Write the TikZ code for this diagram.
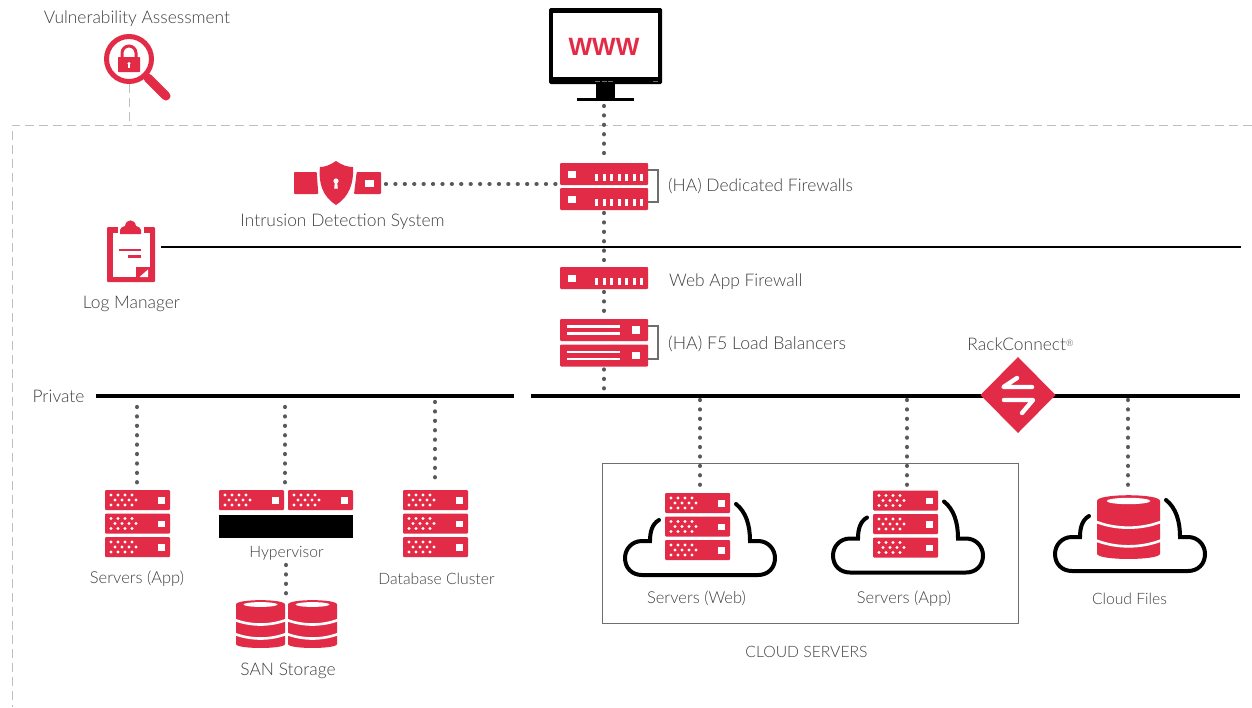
\documentclass[tikz,border=0pt]{standalone}
\usepackage{fontspec}
\usetikzlibrary{shapes.geometric}
\setmainfont{Lato Light}
\newfontfamily\wwwfont{Liberation Sans}
\definecolor{rk}{HTML}{E22B46}
\definecolor{tx}{HTML}{3E4042}
\definecolor{dk}{HTML}{58595B}
\definecolor{dsh}{HTML}{BDBFC1}
\definecolor{brk}{HTML}{6D6E70}
\tikzset{
 dotline/.style={draw=dk,line width=4.3pt,line cap=round,dash pattern=on 0.01pt off 9.4pt,shorten <=3pt,shorten >=2pt},
 framedash/.style={draw=dsh,line width=1pt,dash pattern=on 9pt off 5pt},
 bar/.style={draw=black,line width=4pt},
 rbox/.style={fill=rk,draw=none,rounded corners=1pt,inner sep=0pt,outer sep=0pt,anchor=north west},
 wsq/.style={fill=white,draw=none},
 tick/.style={draw=white,line width=3pt},
 wline/.style={draw=white,line width=2.4pt},
 cloudline/.style={draw=black,line width=4pt,line cap=round},
 bracket/.style={draw=brk,line width=1.2pt},
 lbl/.style={text=tx,inner sep=0pt,font=\fontsize{17.4}{20}\selectfont},
 sm/.style={text=tx,inner sep=0pt,font=\fontsize{15.7}{18}\selectfont},
 srvlbl/.style={text=tx,inner sep=0pt,font=\fontsize{16.5}{18}\selectfont},
}
\newcommand{\dotsrv}[3]{%
 \node[rbox,minimum width=65pt,minimum height=20pt] (#1) at (#2,#3) {};
 \foreach \dy/\dx in {5/6,5/13,5/20,5/27,10/10,10/17,10/24,10/31,15/6,15/13,15/20,15/27}
  \fill[white] ({#2+\dx},{#3+\dy}) circle (1.6pt);
 \fill[wsq] ({#2+53},{#3+7}) rectangle ({#2+59.5},{#3+13.5});
}
\newcommand{\fwsrv}[3]{%
 \node[rbox,minimum width=88pt,minimum height=22pt] (#1) at (#2,#3) {};
 \fill[wsq] ({#2+8},{#3+8}) rectangle ({#2+16},{#3+15});
 \foreach \k in {0,...,6}
  \draw[tick] ({#2+36.5+7.5*\k},{#3+11}) -- ({#2+36.5+7.5*\k},{#3+18});
}
\newcommand{\lbsrv}[3]{%
 \node[rbox,minimum width=88pt,minimum height=22pt] (#1) at (#2,#3) {};
 \draw[wline] ({#2+7},{#3+7.5}) -- ({#2+60},{#3+7.5});
 \draw[wline] ({#2+7},{#3+14.5}) -- ({#2+60},{#3+14.5});
 \fill[wsq] ({#2+72},{#3+7}) rectangle ({#2+80},{#3+14.5});
}
\newcommand{\cyl}[5]{%
 \node[inner sep=0pt,outer sep=0pt,minimum width=#4pt,minimum height=#5pt,anchor=north west] (#1) at (#2,#3) {};
 \begin{scope}[shift={(#2,#3)},xscale=#4/49,yscale=#5/48]
  \fill[rk] (0,4.5) .. controls (0,-1.3) and (49,-1.3) .. (49,4.5) -- (49,44) .. controls (49,49.3) and (0,49.3) .. (0,44) -- cycle;
  \fill[white] (24.5,4.5) ellipse (17 and 2.4);
  \draw[white,line width=2.6pt] (-1,20) .. controls (15,26) and (34,26) .. (50,20);
  \draw[white,line width=2.6pt] (-1,34) .. controls (15,40) and (34,40) .. (50,34);
 \end{scope}
}
\newcommand{\cloud}[2]{%
 \begin{scope}[shift={(#1,#2)}]
 \draw[cloudline] (659,520) .. controls (652,524) and (650,532) .. (650,541) -- (642,541) .. controls (632,541) and (625,549) .. (625,558) .. controls (625,568) and (632,575) .. (642,575) -- (758,575) .. controls (768,575) and (775,568) .. (775,558) .. controls (775,549) and (768,541) .. (758,541) -- (750,541) .. controls (750,525) and (746,512) .. (736,504);
 \end{scope}
}
\begin{document}
\begin{tikzpicture}[x=1pt,y=-1pt]
\useasboundingbox (0,0) rectangle (1252,707);
\draw[framedash] (1252,125) -- (12,125) -- (12,707);
% magnifier
\coordinate (vaTop) at (129,84);
\coordinate (vaBot) at (129,125);
\draw[framedash] (vaTop) -- (vaBot);
\draw[rk,line width=5pt] (129,59) circle (22.5pt);
\draw[rk,line width=9pt,line cap=round] (148,78) -- (166,96);
\fill[rk,rounded corners=.6pt] (118,57) rectangle (140,72);
\draw[rk,line width=3pt] (122,58) -- (122,53) arc (180:360:7) -- (136,58);
\fill[white] (129,63.5) circle (1.6pt);
\fill[white] (128.2,64) rectangle (129.8,67.5);
% monitor
\node[fill=black,rounded corners=1.5pt,inner sep=0pt,outer sep=0pt,minimum width=113pt,minimum height=76pt,anchor=north west] (mon) at (549,8) {};
\fill[white] (553,13) rectangle (658,77);
\foreach \xx in {595,601.5,608} \fill[brk] (\xx,80.5) rectangle ({\xx+5},81.8);
\fill[brk] (653,80.5) rectangle (658,81.8);
\fill[black] (596,84) rectangle (615,98);
\node[fill=black,inner sep=0pt,outer sep=0pt,minimum width=57pt,minimum height=3pt,anchor=north west] (monbase) at (577,98) {};
\node[text=rk,inner sep=0pt,font=\wwwfont\bfseries\fontsize{25}{28}\selectfont] (www) at (604,47) {WWW};
% labels top
\node[lbl] (tVA) at (137,18.5) {Vulnerability Assessment};
\node[lbl] (tIDS) at (342.5,221.5) {Intrusion Detection System};
\node[lbl,anchor=west] (tFW) at (668,186) {(HA) Dedicated Firewalls};
\node[lbl,anchor=west] (tWAF) at (669,281.5) {Web App Firewall};
\node[lbl,anchor=west,font=\fontsize{17.7}{20}\selectfont] (tLB) at (668,344) {(HA) F5 Load Balancers};
\node[lbl] (tRC) at (1020.5,344.5) {RackConnect\raisebox{.55ex}{\fontsize{9}{9}\selectfont®}};
\node[lbl] (tLog) at (131.5,303.5) {Log Manager};
\node[lbl] (tPriv) at (58.5,396.5) {Private};
% IDS
\fill[rk,rounded corners=.8pt] (294,172) -- (316.7,172) -- (318.3,194) -- (294,194) -- cycle;
\fill[rk] (336,161) .. controls (342,165) and (347,167) .. (353,167) .. controls (354,183) and (349,197) .. (336,205) .. controls (323,197) and (318,183) .. (320,167) .. controls (325,167) and (330,165) .. (336,161) -- cycle;
\fill[white] (336,181) circle (2.6pt);
\fill[white] (334.8,182) -- (337.2,182) -- (337.8,188.5) -- (334.2,188.5) -- cycle;
\node[inner sep=0pt,outer sep=0pt,minimum width=26pt,minimum height=22pt,anchor=north west] (ids) at (355,172) {};
\fill[rk,rounded corners=.8pt] (356.7,172) -- (381,172) -- (381,194) -- (354,194) -- cycle;
\fill[wsq] (365,180) rectangle (374,187);
% firewalls
\fwsrv{fwa}{560}{163}
\fwsrv{fwb}{560}{188}
\coordinate (fwL) at (559,184);
\draw[bracket] (648,170) -- (658,170) -- (658,202) -- (648,202);
\fwsrv{waf}{560}{267}
\lbsrv{lba}{560}{319}
\lbsrv{lbb}{560}{344.5}
\draw[bracket] (648,326) -- (658,326) -- (658,359) -- (648,359);
% log manager
\fill[rk,rounded corners=1pt] (107,227) rectangle (155,282);
\fill[white] (112.5,232.5) rectangle (149.5,277);
\fill[white] (117.5,225) rectangle (143.5,236);
\fill[rk] (120,234) -- (120,230) .. controls (120,227) and (123,227) .. (125,226) .. controls (126,218.5) and (135,218.5) .. (136,226) .. controls (138,227) and (141,227) .. (141,230) -- (141,234) -- cycle;
\draw[rk,line width=2.2pt] (119,250) -- (141,250);
\draw[rk,line width=2.2pt] (128,256.5) -- (141,256.5);
\fill[rk] (135.5,267) rectangle (150,282);
\fill[white] (148,269.5) -- (148,277) -- (139.5,277) -- cycle;
\coordinate (logEnd) at (161,247);
\coordinate (logEndR) at (1241,247);
\draw[black,line width=1.1pt] (logEnd) -- (logEndR);
% buses
\coordinate (pa) at (96,396); \coordinate (pb) at (514,396);
\coordinate (qa) at (531,396); \coordinate (qb) at (1240,396);
\draw[bar] (pa) -- (pb);
\draw[bar] (qa) -- (qb);
\node[fill=rk,diamond,inner sep=0pt,outer sep=0pt,minimum width=75pt,minimum height=76pt] (rc) at (1018,395) {};
\draw[white,line width=4.4pt,line cap=round,line join=round] (1017,378) -- (1003.5,387) -- (1032,387);
\draw[white,line width=4.4pt,line cap=round,line join=round] (1004,400) -- (1033,400) -- (1022,413);
% left servers
\dotsrv{sa}{105}{490}
\dotsrv{sb}{105}{513.5}
\dotsrv{sc}{105}{537}
\dotsrv{ha}{219}{490}
\dotsrv{hb}{288}{490}
\node[fill=black,inner sep=0pt,outer sep=0pt,minimum width=134pt,minimum height=23pt,anchor=north west] (hv) at (219,515) {};
\dotsrv{da}{403}{490}
\dotsrv{db}{403}{513.5}
\dotsrv{dc}{403}{537}
\node[srvlbl] (tSA) at (137,578.5) {Servers (App)};
\node[sm] (tHV) at (286.5,553.5) {Hypervisor};
\node[sm] (tDB) at (436.5,578.5) {Database Cluster};
\node[lbl] (tSAN) at (288,670.5) {SAN Storage};
\cyl{sana}{236}{600}{49}{48}
\cyl{sanb}{288}{600}{49}{48}
% cloud box
\node[draw=brk,line width=.9pt,inner sep=0pt,outer sep=0pt,minimum width=416pt,minimum height=160pt,anchor=north west] (cbox) at (602,463) {};
\cloud{0}{0}
\dotsrv{wa}{665}{493}
\dotsrv{wb}{665}{516.5}
\dotsrv{wc}{665}{540}
\cloud{208}{-2.5}
\dotsrv{aa}{873}{490.5}
\dotsrv{ab}{873}{514}
\dotsrv{ac}{873}{537.5}
\cloud{430}{-4}
\cyl{cf}{1097}{495}{63}{64}
\node[srvlbl] (tWeb) at (696.5,598.5) {Servers (Web)};
\node[srvlbl] (tApp) at (904,598.5) {Servers (App)};
\node[sm] (tCF) at (1129.5,598.5) {Cloud Files};
\node[sm] (tCS) at (806.5,651.5) {CLOUD SERVERS};
% dotted connectors
\coordinate (t1) at (137,404); \coordinate (t2) at (285,404); \coordinate (t3) at (435,399);
\coordinate (t4) at (700,397); \coordinate (t5) at (907,397); \coordinate (t6) at (1128,397);
\coordinate (t7) at (604,393);
\coordinate (h7) at (286,562);
\coordinate (m1) at (604,103);
\coordinate (i1) at (383,184);
\coordinate (e1) at (137,488); \coordinate (e2) at (285,488); \coordinate (e3) at (435,488);
\coordinate (e4) at (700,490); \coordinate (e5) at (907,490); \coordinate (e6) at (1128,494);
\coordinate (s7) at (286,600);
\draw[dotline] (m1) -- (fwa.north);
\draw[dotline] (i1) -- (fwL);
\draw[dotline] (fwb.south) -- (waf.north);
\draw[dotline] (waf.south) -- (lba.north);
\draw[dotline] (lbb.south) -- (t7);
\draw[dotline] (t1) -- (e1);
\draw[dotline] (t2) -- (e2);
\draw[dotline] (t3) -- (e3);
\draw[dotline] (t4) -- (e4);
\draw[dotline] (t5) -- (e5);
\draw[dotline] (t6) -- (e6);
\draw[dotline] (h7) -- (s7);
\end{tikzpicture}
\end{document}
